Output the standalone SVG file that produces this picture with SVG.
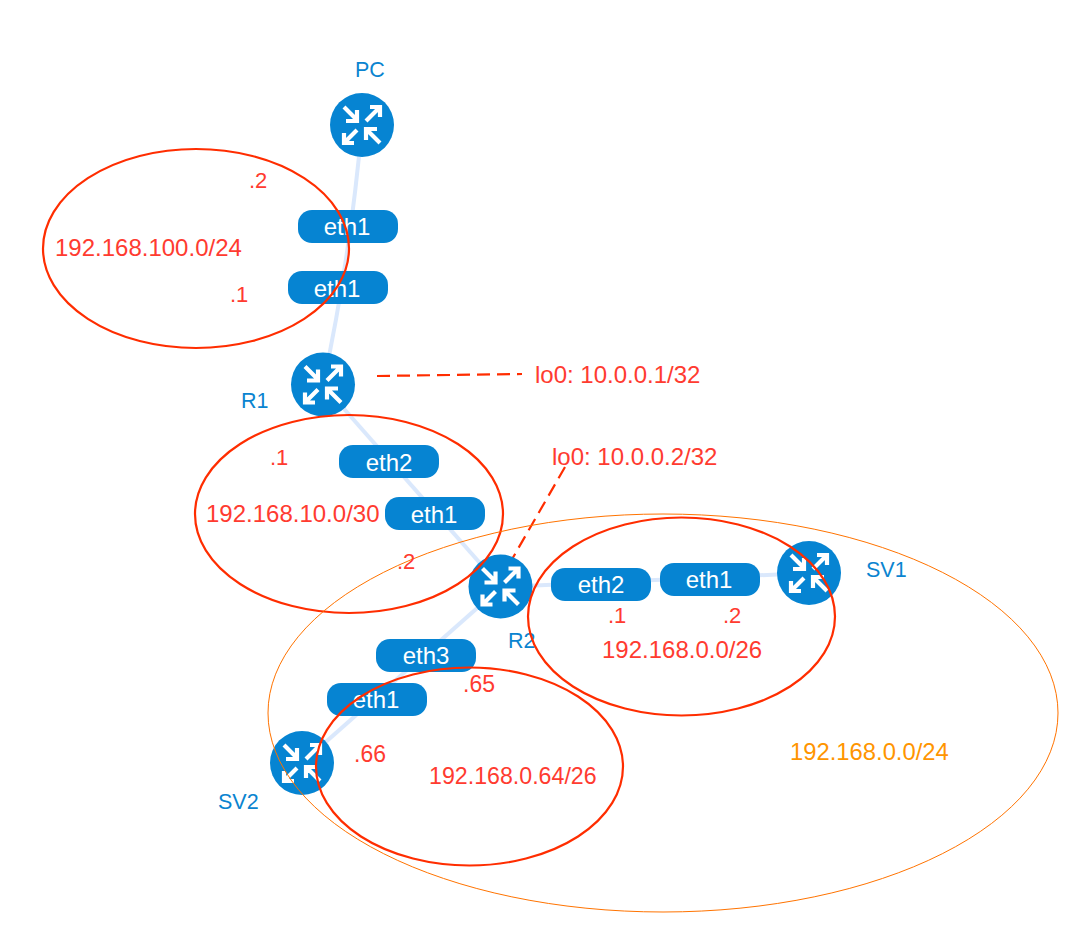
<svg xmlns="http://www.w3.org/2000/svg" width="1074" height="930" viewBox="0 0 1074 930">
<style>
text{font-family:"Liberation Sans",Arial,sans-serif}
.link{fill:none;stroke:#dae8fc;stroke-width:4}
.pill{fill:#0684d2}
.pt{fill:#fff;font-size:24px;text-anchor:middle}
.nl{fill:#0a84d0;font-size:21.500px}
.rl{fill:#ff3b30;font-size:24px}
.ring{fill:none;stroke:#ff2d00;stroke-width:2.200}
.dash{fill:none;stroke:#ff2d00;stroke-width:2.200;stroke-dasharray:13 7}
.ic{fill:none;stroke:#fff;stroke-width:4.200}
</style>
<defs>
<g id="router">
<circle r="32" fill="#0684d2"/>
<path class="ic" d="M-18-18L-5-5M-5-15V-4H-16M4-4L18-18M8-18H18V-8M-5 5L-18 18M-18 8V18H-8M18 18L5 5M4 15V4H15"/>
</g>
</defs>
<g id="connectors">
<path class="link" d="M362 125Q350 260 323 385"/>
<path class="link" d="M323 385L501 587"/>
<path class="link" d="M501 587L809 573"/>
<path class="link" d="M501 587L302 763"/>
<path class="dash" d="M377 376L522 374"/>
<path class="dash" d="M565 467L511 561"/>
</g>
<g id="PC"><use href="#router" x="362" y="125"/><text class="nl" x="355" y="77">PC</text></g>
<g id="R1"><use href="#router" x="323" y="384.500"/><text class="nl" x="241" y="408">R1</text></g>
<g id="R2"><use href="#router" x="500.500" y="586.500"/><text class="nl" x="508" y="648">R2</text></g>
<g id="SV1"><use href="#router" x="809" y="573"/><text class="nl" x="866" y="577">SV1</text></g>
<g id="SV2"><use href="#router" x="302" y="763"/><text class="nl" x="218" y="809">SV2</text></g>
<g id="ports">
<g id="pc-eth1"><rect class="pill" x="298" y="210" width="100" height="33" rx="14"/><text class="pt" x="347" y="235">eth1</text></g>
<g id="r1-eth1"><rect class="pill" x="288" y="271" width="100" height="33" rx="14"/><text class="pt" x="337" y="297">eth1</text></g>
<g id="r1-eth2"><rect class="pill" x="339" y="445" width="100" height="33" rx="14"/><text class="pt" x="389" y="471">eth2</text></g>
<g id="r2-eth1"><rect class="pill" x="385" y="497" width="100" height="33" rx="14"/><text class="pt" x="434" y="523">eth1</text></g>
<g id="r2-eth3"><rect class="pill" x="376" y="639" width="100" height="33" rx="14"/><text class="pt" x="426" y="664">eth3</text></g>
<g id="sv2-eth1"><rect class="pill" x="327" y="683" width="100" height="33" rx="14"/><text class="pt" x="376" y="708">eth1</text></g>
<g id="r2-eth2"><rect class="pill" x="551" y="568" width="100" height="33" rx="14"/><text class="pt" x="601" y="593">eth2</text></g>
<g id="sv1-eth1"><rect class="pill" x="660" y="563" width="100" height="33" rx="14"/><text class="pt" x="709" y="588">eth1</text></g>
</g>
<g id="networks">
<ellipse class="ring" cx="196" cy="248.500" rx="153" ry="99.500"/>
<ellipse class="ring" cx="349" cy="514" rx="154" ry="99"/>
<ellipse class="ring" cx="681.500" cy="616.500" rx="153.500" ry="99"/>
<ellipse class="ring" cx="469.500" cy="766.500" rx="153.500" ry="99"/>
<ellipse cx="663" cy="713" rx="395" ry="199" fill="none" stroke="#ff7300" stroke-width="1"/>
</g>
<g id="labels">
<text class="rl" x="249" y="188" style="font-size:22px">.2</text>
<text class="rl" x="55" y="256">192.168.100.0/24</text>
<text class="rl" x="230" y="302" style="font-size:22px">.1</text>
<text class="rl" x="535" y="383">lo0: 10.0.0.1/32</text>
<text class="rl" x="552" y="465">lo0: 10.0.0.2/32</text>
<text class="rl" x="270" y="465" style="font-size:22px">.1</text>
<text class="rl" x="206" y="522">192.168.10.0/30</text>
<text class="rl" x="397" y="569" style="font-size:22px">.2</text>
<text class="rl" x="608" y="623" style="font-size:22px">.1</text>
<text class="rl" x="723" y="623" style="font-size:22px">.2</text>
<text class="rl" x="602" y="658">192.168.0.0/26</text>
<text class="rl" x="463" y="692" style="font-size:23px">.65</text>
<text class="rl" x="354" y="762" style="font-size:23px">.66</text>
<text class="rl" x="429" y="784" style="font-size:23.200px">192.168.0.64/26</text>
<text x="790" y="760" style="fill:#ff9500;font-size:23.800px">192.168.0.0/24</text>
</g>
</svg>
